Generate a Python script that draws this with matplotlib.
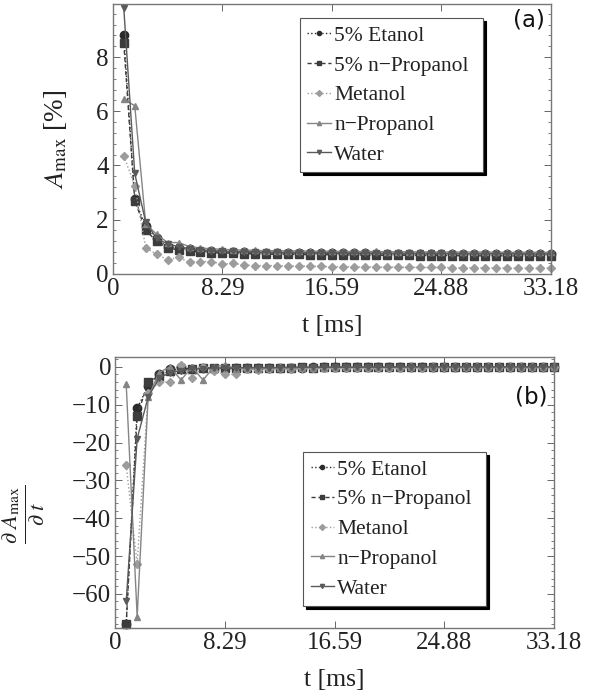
import matplotlib
matplotlib.use("Agg")
import matplotlib.pyplot as plt
from matplotlib.ticker import MultipleLocator
import numpy as np

plt.rcParams['font.family'] = ['Liberation Serif', 'DejaVu Serif']
plt.rcParams['mathtext.fontset'] = 'stix'

dt = 0.8295
n = 40
t = dt * np.arange(1, n + 1)
xticks = [0, 8.29, 16.59, 24.88, 33.18]

names = ["5% Etanol", "5% n\u2212Propanol", "Metanol", "n\u2212Propanol", "Water"]

# panel (a): A_max [%]
etanol_a = [8.8, 2.75, 1.75, 1.3, 1.0, 0.95, 0.9, 0.85, 0.82, 0.8,
            0.8, 0.79, 0.78, 0.78, 0.77, 0.77, 0.76, 0.76, 0.76, 0.75,
            0.75, 0.75, 0.75, 0.74, 0.74, 0.74, 0.74, 0.74, 0.73, 0.73,
            0.73, 0.73, 0.73, 0.73, 0.72, 0.72, 0.72, 0.72, 0.72, 0.72]
propanol5_a = [8.5, 2.7, 1.6, 1.2, 0.95, 0.88, 0.85, 0.8, 0.78, 0.76,
               0.75, 0.74, 0.73, 0.72, 0.72, 0.71, 0.71, 0.7, 0.7, 0.7,
               0.69, 0.69, 0.69, 0.68, 0.68, 0.68, 0.68, 0.67, 0.67, 0.67,
               0.67, 0.66, 0.66, 0.66, 0.66, 0.66, 0.65, 0.65, 0.65, 0.65]
metanol_a = [4.35, 3.25, 0.95, 0.72, 0.52, 0.6, 0.42, 0.45, 0.45, 0.35,
             0.38, 0.32, 0.3, 0.3, 0.3, 0.28, 0.28, 0.27, 0.27, 0.26,
             0.26, 0.25, 0.25, 0.25, 0.24, 0.24, 0.24, 0.23, 0.23, 0.23,
             0.22, 0.22, 0.22, 0.21, 0.21, 0.21, 0.2, 0.2, 0.2, 0.2]
npropanol_a = [6.45, 6.2, 1.85, 1.45, 1.15, 1.15, 1.0, 0.95, 0.92, 0.9,
               0.88, 0.87, 0.86, 0.85, 0.85, 0.84, 0.84, 0.83, 0.83, 0.83,
               0.82, 0.82, 0.82, 0.82, 0.81, 0.81, 0.81, 0.81, 0.8, 0.8,
               0.8, 0.8, 0.8, 0.8, 0.79, 0.79, 0.79, 0.79, 0.79, 0.79]
water_a = [9.8, 3.7, 1.9, 1.3, 1.1, 1.0, 0.92, 0.88, 0.85, 0.83,
           0.82, 0.81, 0.8, 0.79, 0.79, 0.78, 0.78, 0.77, 0.77, 0.77,
           0.76, 0.76, 0.76, 0.76, 0.75, 0.75, 0.75, 0.75, 0.75, 0.75,
           0.74, 0.74, 0.74, 0.74, 0.74, 0.74, 0.74, 0.73, 0.73, 0.73]

# panel (b): derivative
etanol_b = [-68, -11, -5, -2, -0.5, 0, -0.5, -0.3, -0.5, -0.3,
            -0.3, -0.2, -0.3, -0.2, -0.2, -0.2, -0.2, -0.1, -0.1, -0.1,
            -0.1, -0.1, -0.1, -0.1, -0.1, -0.1, -0.1, 0, 0, 0,
            0, 0, 0, 0, 0, 0, 0, 0, 0, 0]
propanol5_b = [-68, -13, -4, -2.5, -1, -0.5, -0.5, -0.3, -0.3, -0.4,
               -0.3, -0.2, -0.2, -0.3, -0.2, -0.2, -0.1, -0.2, -0.1, -0.1,
               -0.1, -0.1, -0.1, -0.1, -0.1, -0.1, -0.1, -0.1, 0, 0,
               0, 0, 0, 0, 0, 0, 0, 0, 0, 0]
metanol_b = [-26, -52, -7, -4, -4, 0.5, -3, 0, -1, -2,
             -2, -0.5, -0.8, -0.5, -0.3, -0.5, -0.4, -0.3, -0.3, -0.3,
             -0.2, -0.3, -0.2, -0.2, -0.2, -0.2, -0.1, -0.2, -0.1, -0.1,
             -0.1, -0.1, -0.1, -0.1, -0.1, -0.1, 0, 0, 0, 0]
npropanol_b = [-4.5, -66, -8, -1.5, 0, -3.5, 0, -3.5, 0, 0.5,
               -0.5, -0.3, -0.5, -0.3, -0.2, -0.3, -0.2, -0.2, -0.2, -0.1,
               -0.1, -0.1, -0.1, -0.1, -0.1, -0.1, -0.1, 0, 0, 0,
               0, 0, 0, 0, 0, 0, 0, 0, 0, 0]
water_b = [-62, -19, -8, -3, -1.5, -1, -0.5, -0.5, -0.3, -0.3,
           -0.3, -0.2, -0.2, -0.2, -0.2, -0.1, -0.1, -0.1, -0.1, -0.1,
           -0.1, -0.1, -0.1, -0.1, -0.1, 0, 0, 0, 0, 0,
           0, 0, 0, 0, 0, 0, 0, 0, 0, 0]

styles = [
    dict(color="#2b2b2b", marker="o", ls=":", ms=6),
    dict(color="#3c3c3c", marker="s", ls=(0, (3, 2)), ms=5.2),
    dict(color="#9c9c9c", marker="D", ls=":", ms=4.5),
    dict(color="#858585", marker="^", ls="-", ms=5),
    dict(color="#5a5a5a", marker="v", ls="-", ms=5),
]


def style_axes(ax, ymin, ymax, ymaj, ymin_step):
    ax.set_xlim(0, 33.18)
    ax.set_ylim(ymin, ymax)
    ax.set_xticks(xticks)
    ax.set_xticklabels(["0", "8.29", "16.59", "24.88", "33.18"])
    ax.yaxis.set_major_locator(MultipleLocator(ymaj))
    ax.yaxis.set_minor_locator(MultipleLocator(ymin_step))
    ax.tick_params(which="both", direction="in", top=True, right=True,
                   labelsize=18, colors="#222222", pad=3)
    ax.tick_params(which="major", length=5, width=0.7, color="#666666")
    ax.tick_params(which="minor", length=2.5, width=0.6, color="#666666")
    for s in ax.spines.values():
        s.set_color("#777777")
        s.set_linewidth(1.0)
    ax.set_xlabel("t [ms]", fontsize=18.5, color="#222222", labelpad=11)


def legend(ax, anchor):
    leg = ax.legend(loc="upper left", bbox_to_anchor=anchor, mode="expand",
                    fontsize=15.5, frameon=True, fancybox=False,
                    shadow={"color": "black", "alpha": 1.0},
                    handlelength=1.1, handletextpad=0.15, labelspacing=0.45,
                    borderpad=0.35, borderaxespad=0)
    leg.get_frame().set_edgecolor("#555555")
    leg.get_frame().set_linewidth(0.8)
    for h in leg.get_lines():
        h.set_markersize(3)
    for tx in leg.get_texts():
        tx.set_color("#222222")


fig = plt.figure(figsize=(5.97, 7.0), dpi=100)
ax1 = fig.add_axes([0.189, 0.609, 0.734, 0.385])
ax2 = fig.add_axes([0.193, 0.103, 0.735, 0.387])

for ys, name, st in zip([etanol_a, propanol5_a, metanol_a, npropanol_a, water_a], names, styles):
    ax1.plot(t, ys, label=name, lw=1.0, clip_on=False, **st)
for ys, name, st in zip([etanol_b, propanol5_b, metanol_b, npropanol_b, water_b], names, styles):
    ax2.plot(t, ys, label=name, lw=1.0, clip_on=False, **st)

style_axes(ax1, 0, 9.95, 2, 0.4)
style_axes(ax2, -69, 2.6, 10, 2)

ax1.set_ylabel(r"$A_{\mathrm{max}}$ [%]", fontsize=19.5, color="#222222")
ax1.yaxis.set_label_coords(-0.10, 0.5)
ax2.set_ylabel(r"$\frac{\partial\ A_{\mathrm{max}}}{\partial\ t}$", fontsize=23,
               color="#222222")
ax2.yaxis.set_label_coords(-0.155, 0.42)

legend(ax1, (0.427, 0.948, 0.418, 0.0))
legend(ax2, (0.428, 0.649, 0.418, 0.0))

ax1.text(0.985, 0.985, "(a)", transform=ax1.transAxes, ha="right", va="top",
         fontsize=16.5, family="DejaVu Sans", color="#111111")
ax2.text(0.985, 0.895, "(b)", transform=ax2.transAxes, ha="right", va="top",
         fontsize=16.5, family="DejaVu Sans", color="#111111")

fig.savefig("out.png", dpi=100)
